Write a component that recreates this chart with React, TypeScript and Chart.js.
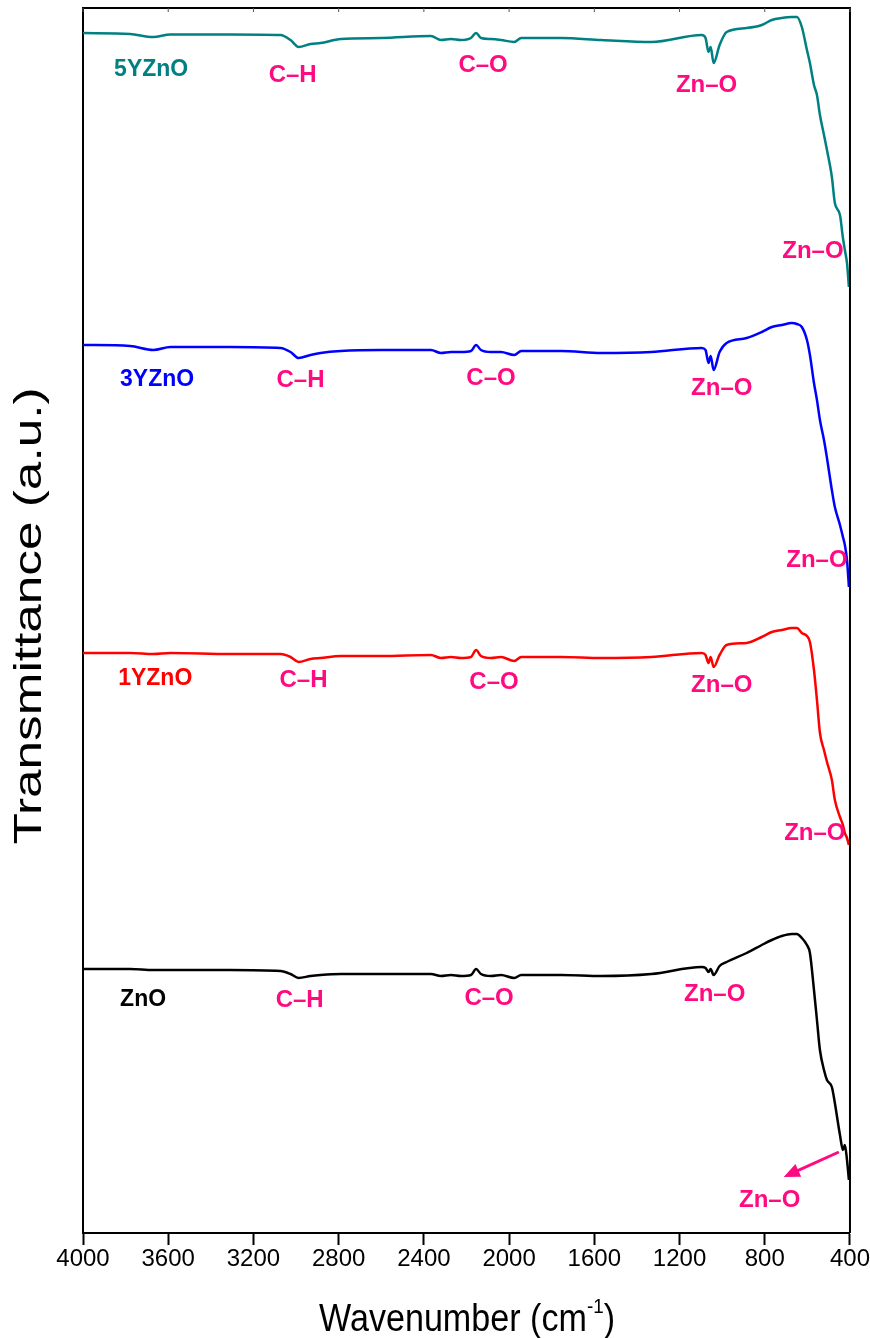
import React, { useEffect, useRef } from "react";
import { Chart, registerables } from "chart.js";

Chart.register(...registerables);

const wavenumbers = [
  4000, 3779, 3670, 3590, 3310, 3073, 3026, 2988, 2932, 2885, 2790, 2600, 2367, 2320, 2273, 2226, 2179, 2155,
  2132, 2085, 2038, 1976, 1943, 1755, 1567, 1332, 1096, 1078, 1064, 1054, 1040, 1012, 979, 885, 814, 767, 720,
  673, 649, 626, 602, 588, 569, 555, 541, 522, 508, 485, 471, 447, 433, 424, 414, 405,
];

const seriesNames = ["5YZnO", "3YZnO", "1YZnO", "ZnO"];

const y5YZnO = [
  1200, 1199, 1196, 1198.5, 1198.5, 1198, 1193, 1186, 1189, 1190, 1194, 1195, 1197, 1193, 1194, 1193, 1195, 1200,
  1195, 1194, 1193, 1191, 1195, 1195, 1193, 1191, 1198, 1195, 1181, 1186, 1170, 1188, 1201, 1205, 1208, 1213, 1215,
  1216, 1216, 1206, 1183, 1170, 1148, 1138, 1118, 1098, 1083, 1056, 1030, 1018, 995, 983, 970, 946,
];
const y3YZnO = [
  888, 887, 883, 886, 886, 885, 881, 875, 878, 880, 882, 883, 883, 880, 881, 881, 882, 888, 883, 881, 881, 878,
  882, 882, 880, 881, 885, 883, 870, 877, 863, 881, 890, 895, 901, 906, 908, 910, 909, 906, 893, 878, 850, 833, 813,
  793, 775, 743, 726, 708, 696, 688, 673, 646,
];
const y1YZnO = [
  580, 580, 579, 580, 579, 579, 576, 571, 574, 575, 577, 577, 578, 575, 576, 575, 576, 583, 577, 575, 576, 572, 576,
  576, 575, 576, 580, 578, 570, 576, 566, 578, 588, 590, 596, 601, 603, 605, 605, 600, 597, 591, 563, 533, 500, 483,
  471, 453, 433, 416, 408, 400, 395, 388,
];
const yZnO = [
  264, 264, 263, 263, 263, 262, 259, 255, 257, 258, 259, 259, 259, 257, 258, 257, 258, 264, 259, 257, 258, 255, 258,
  258, 257, 259, 266, 265, 261, 264, 258, 267, 271, 280, 288, 293, 297, 299, 299, 295, 288, 280, 243, 213, 183, 163,
  153, 146, 130, 98, 83, 88, 73, 53,
];

const xTicks = [4000, 3600, 3200, 2800, 2400, 2000, 1600, 1200, 800, 400];

const seriesColors = ["#008080", "#0000FF", "#FF0000", "#000000"];
const bandColor = "#FF0A80";

// sample-name labels: [text, wavenumber, value]
const sampleLabels: [string, number, number][] = [
  ["5YZnO", 3680, 1163],
  ["3YZnO", 3652, 853],
  ["1YZnO", 3661, 554],
  ["ZnO", 3718, 233],
];

// band labels: [text, wavenumber, value]
const bandLabels: [string, number, number][] = [
  ["C\u2013H", 3016, 1158],
  ["C\u2013O", 2122, 1168],
  ["Zn\u2013O", 1073, 1148],
  ["Zn\u2013O", 574, 982],
  ["C\u2013H", 2979, 853],
  ["C\u2013O", 2085, 855],
  ["Zn\u2013O", 1002, 845],
  ["Zn\u2013O", 555, 673],
  ["C\u2013H", 2965, 553],
  ["C\u2013O", 2071, 551],
  ["Zn\u2013O", 1002, 548],
  ["Zn\u2013O", 565, 400],
  ["C\u2013H", 2983, 233],
  ["C\u2013O", 2094, 235],
  ["Zn\u2013O", 1035, 239],
  ["Zn\u2013O", 777, 33],
];

const arrowFrom = [452, 81];
const arrowTo = [711, 56];

const SANS = '"Liberation Sans", Arial, sans-serif';

export default function App() {
  const ref = useRef<HTMLCanvasElement | null>(null);

  useEffect(() => {
    if (!ref.current) return;
    const all = [y5YZnO, y3YZnO, y1YZnO, yZnO];
    const datasets = all.map((arr, i) => ({
      label: seriesNames[i],
      data: wavenumbers.map((w, j) => ({ x: w, y: arr[j] })),
      borderColor: seriesColors[i],
      backgroundColor: seriesColors[i],
      borderWidth: 2.5,
      pointRadius: 0,
      fill: false,
      cubicInterpolationMode: "monotone" as const,
    }));

    const decor = {
      id: "decor",
      afterDatasetsDraw(chart: any) {
        const { ctx, chartArea, scales } = chart;
        const xs = scales.x;
        const ys = scales.y;
        ctx.save();
        // top and right border
        ctx.strokeStyle = "#000";
        ctx.lineWidth = 2;
        ctx.beginPath();
        ctx.moveTo(chartArea.left, chartArea.top);
        ctx.lineTo(chartArea.right, chartArea.top);
        ctx.lineTo(chartArea.right, chartArea.bottom);
        ctx.stroke();
        // top inward ticks
        ctx.lineWidth = 1;
        ctx.strokeStyle = "#555";
        xTicks.forEach((t) => {
          const px = xs.getPixelForValue(t);
          ctx.beginPath();
          ctx.moveTo(px, chartArea.top);
          ctx.lineTo(px, chartArea.top + 4);
          ctx.stroke();
        });

        ctx.textAlign = "center";
        ctx.textBaseline = "middle";
        ctx.font = `bold 23px ${SANS}`;
        sampleLabels.forEach(([t, w, v], i) => {
          ctx.fillStyle = seriesColors[i];
          ctx.fillText(t, xs.getPixelForValue(w), ys.getPixelForValue(v));
        });
        ctx.font = `bold 24px ${SANS}`;
        ctx.fillStyle = bandColor;
        bandLabels.forEach(([t, w, v]) => {
          ctx.fillText(t, xs.getPixelForValue(w), ys.getPixelForValue(v));
        });

        // arrow
        const x1 = xs.getPixelForValue(arrowFrom[0]);
        const y1 = ys.getPixelForValue(arrowFrom[1]);
        const x2 = xs.getPixelForValue(arrowTo[0]);
        const y2 = ys.getPixelForValue(arrowTo[1]);
        const ang = Math.atan2(y2 - y1, x2 - x1);
        ctx.strokeStyle = bandColor;
        ctx.lineWidth = 3;
        ctx.beginPath();
        ctx.moveTo(x1, y1);
        ctx.lineTo(x2 - 8 * Math.cos(ang), y2 - 8 * Math.sin(ang));
        ctx.stroke();
        ctx.beginPath();
        ctx.moveTo(x2, y2);
        ctx.lineTo(x2 - 16 * Math.cos(ang) + 7 * Math.sin(ang), y2 - 16 * Math.sin(ang) - 7 * Math.cos(ang));
        ctx.lineTo(x2 - 16 * Math.cos(ang) - 7 * Math.sin(ang), y2 - 16 * Math.sin(ang) + 7 * Math.cos(ang));
        ctx.closePath();
        ctx.fillStyle = bandColor;
        ctx.fill();

        // x axis title with superscript, horizontally condensed
        ctx.save();
        ctx.fillStyle = "#000";
        ctx.textBaseline = "alphabetic";
        ctx.textAlign = "left";
        const main = "Wavenumber (cm";
        const sup = "-1";
        const close = ")";
        ctx.font = `38px ${SANS}`;
        const wMain = ctx.measureText(main).width;
        const wClose = ctx.measureText(close).width;
        ctx.font = `21px ${SANS}`;
        const wSup = ctx.measureText(sup).width;
        const total = wMain + wSup + wClose;
        const targetW = 296;
        const k = targetW / total;
        const cx = 467;
        ctx.translate(cx - targetW / 2, 1331);
        ctx.scale(k, 1);
        let sx = 0;
        ctx.font = `38px ${SANS}`;
        ctx.fillText(main, sx, 0);
        sx += wMain;
        ctx.font = `21px ${SANS}`;
        ctx.fillText(sup, sx, -18);
        sx += wSup;
        ctx.font = `38px ${SANS}`;
        ctx.fillText(close, sx, 0);
        ctx.restore();

        // y axis title, rotated
        const yt = "Transmittance (a.u.)";
        ctx.fillStyle = "#000";
        ctx.textBaseline = "alphabetic";
        ctx.font = `39px ${SANS}`;
        const wy = ctx.measureText(yt).width;
        ctx.translate(41, 616);
        ctx.rotate(-Math.PI / 2);
        ctx.scale(457 / wy, 1);
        ctx.textAlign = "center";
        ctx.fillText(yt, 0, 0);
        ctx.restore();
      },
    };

    const chart = new Chart(ref.current, {
      type: "line",
      data: { datasets },
      plugins: [decor],
      options: {
        animation: false,
        responsive: false,
        maintainAspectRatio: false,
        layout: { padding: { top: 8, right: 20, bottom: 0, left: 0 } },
        plugins: { legend: { display: false }, tooltip: { enabled: false } },
        scales: {
          x: {
            type: "linear",
            reverse: true,
            min: 400,
            max: 4000,
            afterFit: (s: any) => {
              s.height = 105;
            },
            afterBuildTicks: (s: any) => {
              s.ticks = xTicks.map((v) => ({ value: v }));
            },
            ticks: {
              color: "#000",
              font: { family: SANS, size: 24 },
              padding: 0,
              maxRotation: 0,
              autoSkip: false,
              callback: (v: any) => String(v),
            },
            grid: {
              display: true,
              drawOnChartArea: false,
              tickLength: 12,
              tickWidth: 2,
              tickColor: "#000",
            },
            border: { display: true, color: "#000", width: 2 },
          },
          y: {
            type: "linear",
            min: 0,
            max: 1225,
            afterFit: (s: any) => {
              s.width = 83;
            },
            ticks: { display: false },
            grid: { display: false },
            border: { display: true, color: "#000", width: 2 },
          },
        },
      },
    });
    return () => chart.destroy();
  }, []);

  return (
    <div style={{ position: "fixed", left: 0, top: 0, width: 870, height: 1338, background: "#fff" }}>
      <canvas ref={ref} width={870} height={1338} style={{ display: "block" }} />
    </div>
  );
}
